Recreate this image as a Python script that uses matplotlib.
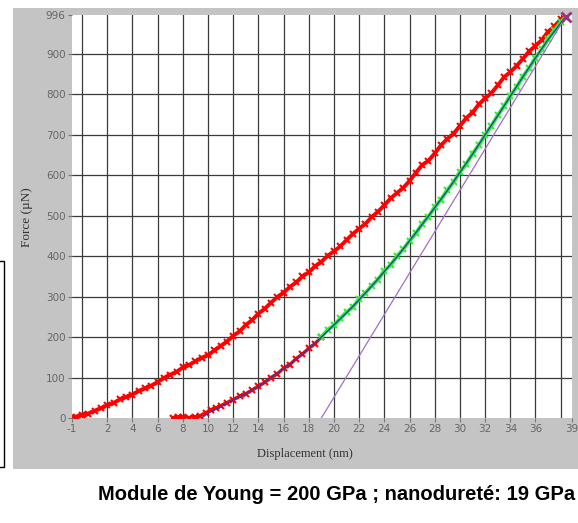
import matplotlib.pyplot as plt
from matplotlib.patches import Rectangle

# loading curve (red)
load_x = [-1.0, -0.5, 0.0, 0.5, 1.0, 1.5, 2.0, 2.5, 3.0, 3.5, 4.0, 4.5, 5.0, 5.5,
          6.0, 6.5, 7.0, 7.5, 8.0, 8.5, 9.0, 9.5, 10.0, 10.5, 11.0, 11.5, 12.0,
          12.5, 13.0, 13.5, 14.0, 14.5, 15.0, 15.5, 16.0, 16.5, 17.0, 17.5, 18.0,
          18.5, 19.0, 19.5, 20.0, 20.5, 21.0, 21.5, 22.0, 22.5, 23.0, 23.5, 24.0,
          24.5, 25.0, 25.5, 26.0, 26.5, 27.0, 27.5, 28.0, 28.5, 29.0, 29.5, 30.0,
          30.5, 31.0, 31.5, 32.0, 32.5, 33.0, 33.5, 34.0, 34.5, 35.0, 35.5, 36.0,
          36.5, 37.0, 37.5, 38.0, 38.4]
load_y = [2, 3, 8, 11, 18, 24, 32, 37, 46, 52, 58, 67, 73, 80,
          89, 99, 107, 114, 125, 131, 140, 149, 155, 167, 178, 189, 203,
          214, 230, 242, 258, 270, 285, 299, 310, 324, 335, 350, 360,
          375, 386, 401, 412, 424, 440, 455, 468, 480, 497, 510, 526,
          543, 556, 569, 586, 606, 625, 636, 654, 674, 690, 703, 722,
          741, 755, 775, 790, 803, 822, 842, 855, 870, 888, 906, 920,
          934, 955, 968, 985, 992]

# unloading, lower part (red)
unl_x = [7.2, 7.6, 8.0, 8.5, 9.0, 9.4, 9.8, 10.2, 10.6, 11.0, 11.5, 12.0, 12.5,
         13.0, 13.5, 14.0, 14.5, 15.0, 15.5, 16.0, 16.5, 17.0, 17.5, 18.0, 18.5, 19.0]
unl_y = [1, 2, 2, 1, 3, 6, 12, 20, 24, 30, 38, 45, 54,
         60, 69, 78, 88, 100, 109, 123, 132, 147, 158, 172, 184, 200]

# unloading, fitted part (green)
fit_x = [19.0, 19.5, 20.0, 20.5, 21.0, 21.5, 22.0, 22.5, 23.0, 23.5, 24.0, 24.5,
         25.0, 25.5, 26.0, 26.5, 27.0, 27.5, 28.0, 28.5, 29.0, 29.5, 30.0, 30.5,
         31.0, 31.5, 32.0, 32.5, 33.0, 33.5, 34.0, 34.5, 35.0, 35.5, 36.0, 36.5,
         37.0, 37.5, 38.0, 38.4]
fit_y = [200, 218, 229, 246, 262, 274, 294, 309, 327, 342, 364, 378,
         400, 417, 438, 456, 480, 497, 521, 540, 563, 583, 608, 627,
         653, 674, 699, 722, 748, 770, 796, 818, 844, 865, 890, 911,
         936, 958, 978, 992]

# power-law fit (blue)
pl_x = [9.5, 10, 11, 12, 13, 14, 15, 16, 17, 18, 19, 20, 21, 22, 23, 24, 25, 26,
        27, 28, 29, 30, 31, 32, 33, 34, 35, 36, 37, 38.4]
pl_y = [0, 12, 28, 45, 60, 78, 100, 122, 145, 172, 200, 230, 260, 292, 326, 362,
        398, 438, 478, 520, 562, 607, 652, 700, 747, 795, 843, 890, 935, 992]

# tangent at max load (purple)
tan_x = [19.0, 38.4]
tan_y = [0, 992]

max_x = [38.4]
max_y = [992]

xticks = [-0.8, 2, 4, 6, 8, 10, 12, 14, 16, 18, 20, 22, 24, 26, 28, 30, 32, 34, 36, 38.9]
xlabels = ['-1', '2', '4', '6', '8', '10', '12', '14', '16', '18', '20', '22', '24',
           '26', '28', '30', '32', '34', '36', '39']
yticks = [0, 100, 200, 300, 400, 500, 600, 700, 800, 900, 996]

W, H = 578, 523
fig = plt.figure(figsize=(W / 100, H / 100), dpi=100)
fig.patch.set_facecolor('white')

# gray panel behind the plot
fig.patches.append(Rectangle((13 / W, (H - 469) / H), 1 - 13 / W, (469 - 8) / H,
                             transform=fig.transFigure, facecolor='#c4c4c4',
                             edgecolor='none', zorder=-2))
# cut-off box on the left edge
fig.patches.append(Rectangle((-2 / W, (H - 467) / H), 6 / W, (467 - 261) / H,
                             transform=fig.transFigure, facecolor='white',
                             edgecolor='black', lw=1, zorder=-2))

ax = fig.add_axes([72 / W, (H - 418) / H, 500 / W, 403 / H])
ax.set_zorder(2)
ax.set_facecolor('white')
ax.set_xlim(-0.8, 38.9)
ax.set_ylim(0, 996)

for gx in range(0, 39, 2):
    ax.axvline(gx, color='#3a3a3a', lw=0.9, zorder=1)
for gy in range(100, 1000, 100):
    ax.axhline(gy, color='#3a3a3a', lw=0.9, zorder=1)

ax.plot(load_x, load_y, color='#ff0000', lw=2.8, marker='x', ms=4, mew=1.5, zorder=3)
ax.plot(unl_x, unl_y, color='#ff0000', lw=2.4, marker='x', ms=4, mew=1.5, zorder=3)
ax.plot(fit_x, fit_y, color='#2cf02c', lw=2.8, marker='x', ms=4.5, mew=1.5, zorder=3)
ax.plot(pl_x, pl_y, color='#2a3fb0', lw=1.0, zorder=4)
ax.plot(tan_x, tan_y, color='#a070c8', lw=0.9, zorder=4)
ax.plot(max_x, max_y, color='#a0307a', marker='x', ms=7, mew=2, zorder=5, clip_on=False)

for s in ax.spines.values():
    s.set_visible(False)

ax.set_xticks(xticks)
ax.set_xticklabels(xlabels)
ax.set_yticks(yticks)
ax.tick_params(direction='out', length=3, width=0.8, color='#777777',
               labelcolor='#666666', labelsize=7.5, pad=1.5)

fig.text(27 / W, (H - 217) / H, 'Force (\u00b5N)', rotation=90, ha='center', va='center',
         family='Liberation Serif', fontsize=9.5, color='#333333')
fig.text(305 / W, (H - 454) / H, 'Displacement (nm)', ha='center', va='center',
         family='Liberation Serif', fontsize=9, color='#333333')
fig.text(337 / W, (H - 495) / H, 'Module de Young = 200 GPa ; nanodureté: 19 GPa',
         ha='center', va='center', family='Liberation Sans', fontweight='bold',
         fontsize=14.5, color='black')

fig.savefig('out.png', dpi=100)
